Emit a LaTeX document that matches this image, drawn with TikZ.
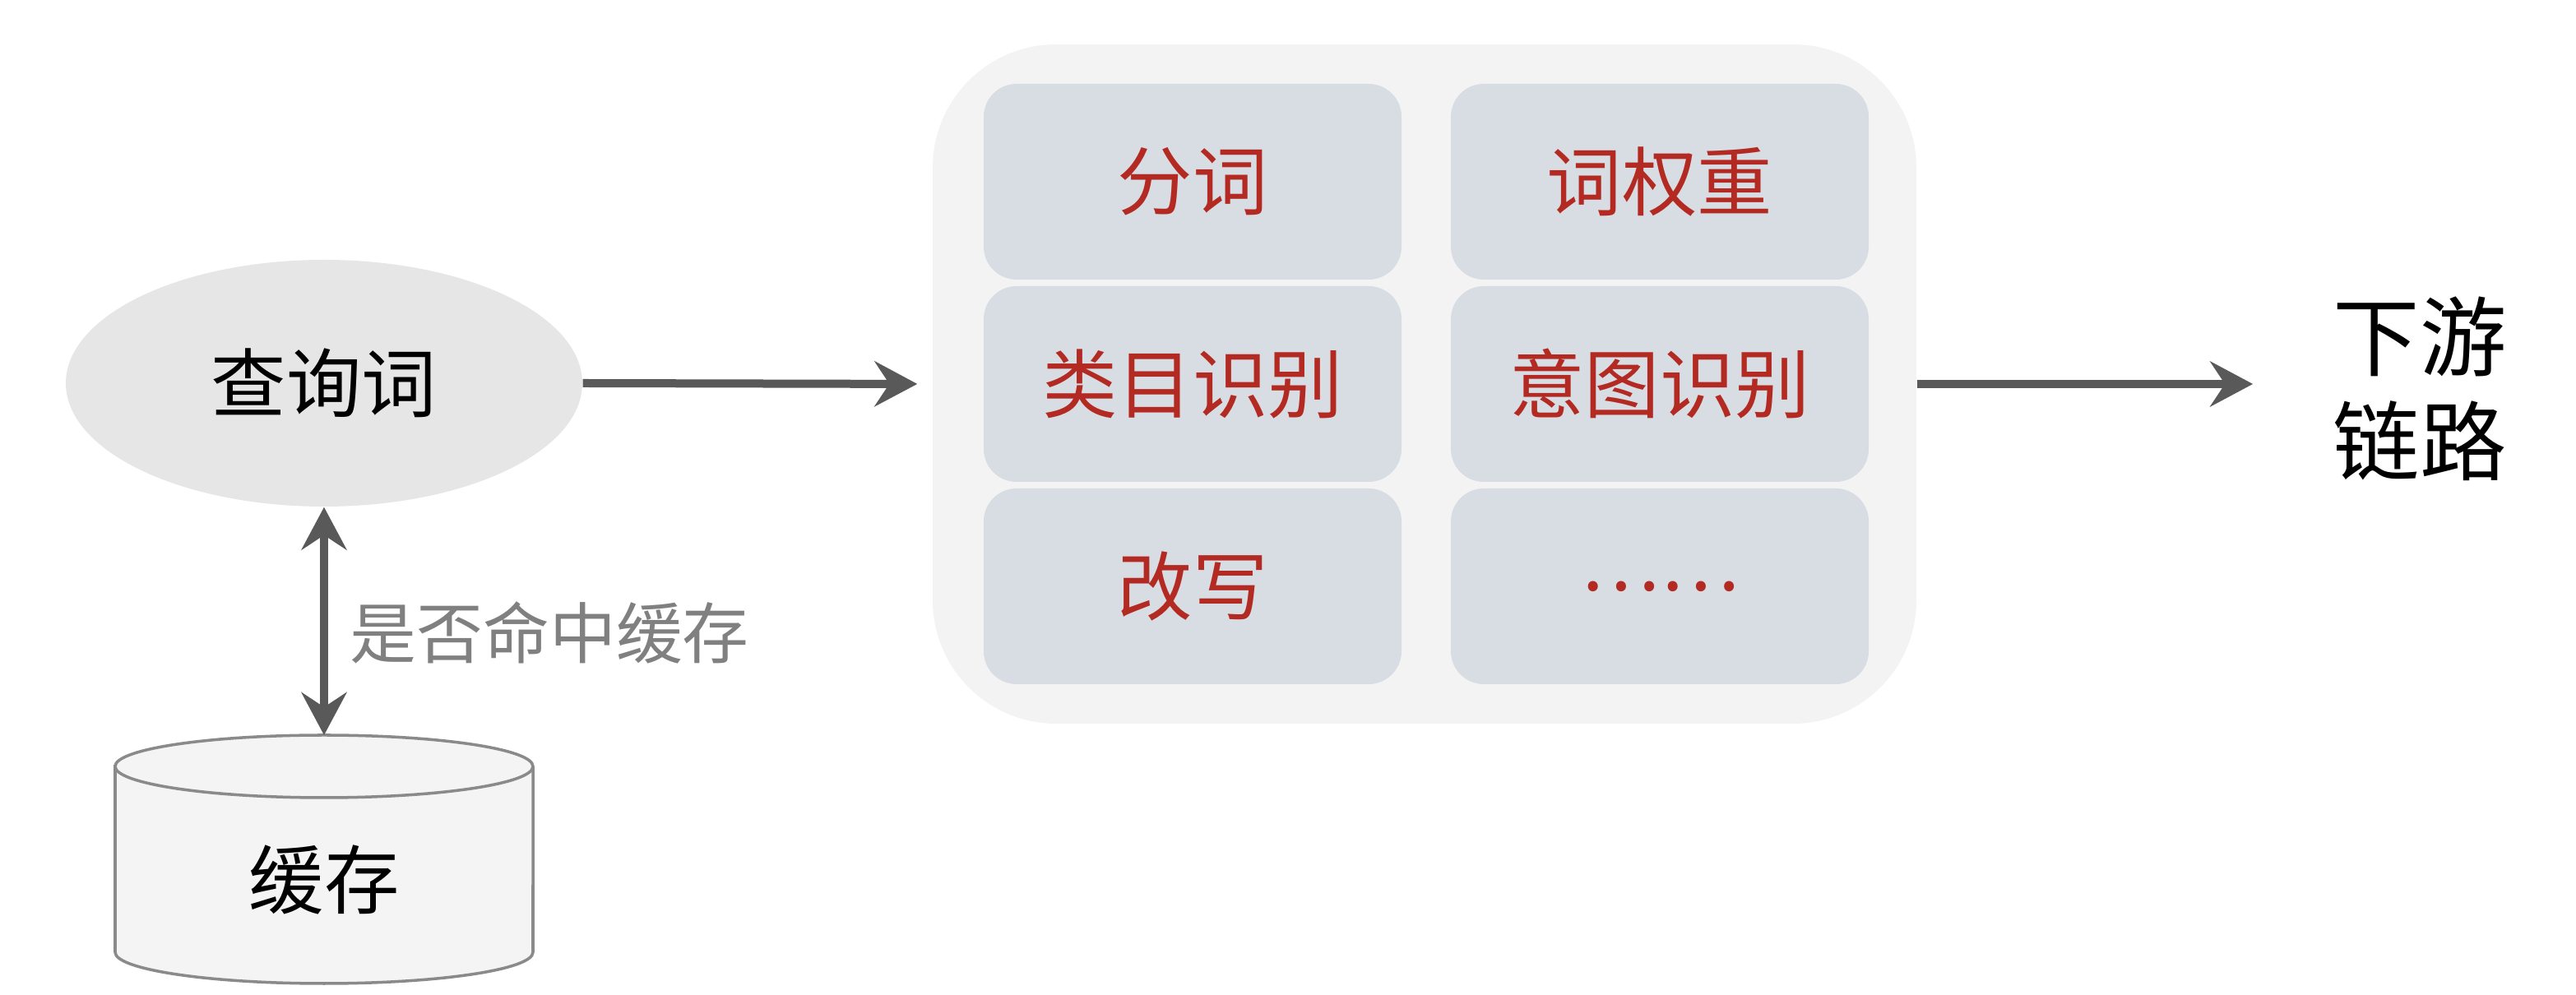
\documentclass[tikz,border=0pt]{standalone}
\usepackage{fontspec}
\newfontfamily\cjk{Noto Sans CJK SC}
\usetikzlibrary{shapes.geometric,arrows.meta}
\definecolor{arrowgray}{HTML}{595959}
\definecolor{querygray}{HTML}{E6E6E6}
\definecolor{panelgray}{HTML}{F3F3F3}
\definecolor{taskblue}{HTML}{D8DCE3}
\definecolor{taskred}{HTML}{B22A22}
\definecolor{cachefill}{HTML}{F4F4F4}
\definecolor{cacheline}{HTML}{8A8A8A}
\definecolor{labelgray}{HTML}{808080}

\begin{document}
\begin{tikzpicture}[
    font=\cjk\fontsize{26}{30}\selectfont,
    >={Stealth[length=0.52cm,width=0.55cm,inset=0.18cm]},
    flow/.style={->, line width=0.1cm, arrowgray},
    task/.style={fill=taskblue, rounded corners=0.4cm, minimum width=5.08cm, minimum height=2.38cm, text=taskred}
]
    % Frame
    \useasboundingbox (0,0) rectangle (31.32,12.10);

    % Query
    \node[ellipse, fill=querygray, minimum width=6.28cm, minimum height=3cm, inner sep=0] (query) at (3.94,7.44) {查询词};

    % Cache cylinder
    \draw[cacheline, fill=cachefill, line width=1pt] (1.40,2.78) -- (1.40,0.52) arc[start angle=180, end angle=360, x radius=2.54, y radius=0.38] -- (6.48,2.78) arc[start angle=0, end angle=180, x radius=2.54, y radius=0.38] -- cycle;
    \draw[cacheline, line width=1pt] (1.40,2.78) arc[start angle=180, end angle=360, x radius=2.54, y radius=0.38];
    \coordinate (cachetop) at (3.94,3.16);
    \node (cache) at (3.94,1.40) {缓存};

    % Cache lookup
    \draw[flow, <->] (query.south) -- (cachetop) node[pos=0.55, right=0.15cm, text=labelgray, font=\cjk\fontsize{23}{27}\selectfont] {是否命中缓存};

    % Processing panel
    \node[fill=panelgray, rounded corners=1.5cm, minimum width=11.96cm, minimum height=8.26cm] (panel) at (17.32,7.43) {};
    \node[task] (seg) at (14.50,9.89) {分词};
    \node[task] (weight) at (20.18,9.89) {词权重};
    \node[task] (category) at (14.50,7.43) {类目识别};
    \node[task] (intent) at (20.18,7.43) {意图识别};
    \node[task] (rewrite) at (14.50,4.97) {改写};
    \node[task] (more) at (20.18,4.97) {……};

    % Downstream
    \node[align=center, font=\cjk\fontsize{30}{36}\selectfont] (down) at (29.42,7.37) {下游\\链路};

    % Flow arrows
    \draw[flow, shorten >=0.18cm] (query.east) -- (panel.west);
    \draw[flow, shorten >=0.85cm] (panel.east) -- (panel.east -| down.west);
\end{tikzpicture}
\end{document}
